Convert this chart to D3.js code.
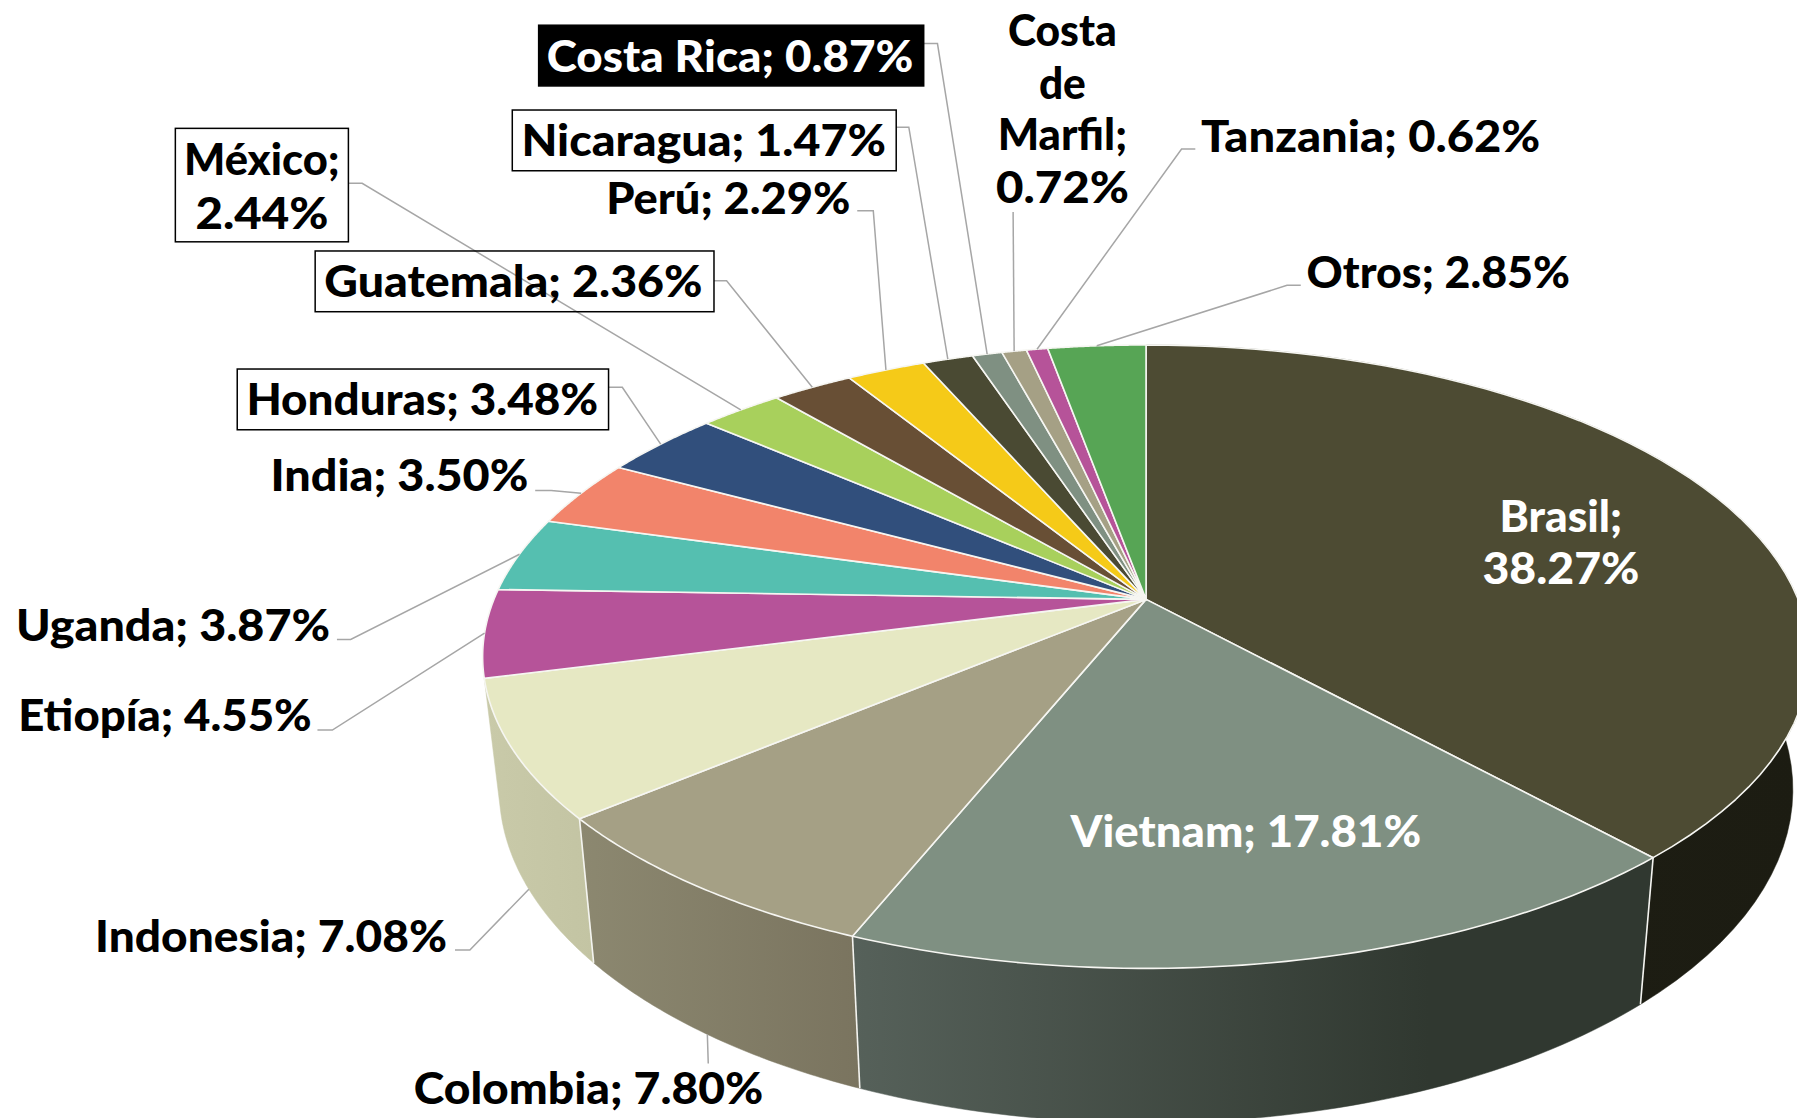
<!DOCTYPE html>
<html><head><meta charset="utf-8">
<script src="https://cdn.jsdelivr.net/npm/d3@7/dist/d3.min.js"></script>
<style>html,body{margin:0;padding:0;background:#fff;overflow:hidden}svg{display:block}text{font-family:Lato,"Open Sans",sans-serif;font-weight:900}</style>
</head><body><svg id="c" width="1797" height="1118"></svg>
<script>
const categories=["Brasil","Vietnam","Colombia","Indonesia","Etiopía","Uganda","India","Honduras","México","Guatemala","Perú","Nicaragua","Costa Rica","Costa de Marfil","Tanzania","Otros"];
const shares=[38.27,17.81,7.80,7.08,4.55,3.87,3.50,3.48,2.44,2.36,2.29,1.47,0.87,0.72,0.62,2.85];
const topColors=["#4d4b33","#7f9082","#a5a085","#e6e8c3","#b65399","#55bfb0","#f2846b","#314f7c","#a8d05c","#684f35","#f5ca18","#4a4a33","#7f9082","#a5a085","#b65399","#57a555"];
const wallStops={0:["#1f1f15","#1c1c12"],1:["#56615a","#303830"],2:["#8c8870","#7a745f"],3:["#c9caa9","#c3c4a3"]};

// label layout in reference units (1568 wide image): line centre, baselines, text widths, elbow
const U=1797/1568;
const layout={
 "Brasil":{lines:["Brasil;","38.27%"],cx:1362,base:[464,510],w:[107,137],color:"#fff"},
 "Vietnam":{lines:["Vietnam; 17.81%"],cx:1087,base:[739],w:[306],color:"#fff"},
 "Colombia":{lines:["Colombia; 7.80%"],cx:513.5,base:[963],w:[305],leader:[[618,928],[618,928]],wall:true},
 "Indonesia":{lines:["Indonesia; 7.08%"],cx:236.5,base:[831],w:[307],leader:[[397,829],[410,829]],wall:true},
 "Etiopía":{lines:["Etiopía; 4.55%"],cx:144,base:[638],w:[256],leader:[[277,637],[290,637]]},
 "Uganda":{lines:["Uganda; 3.87%"],cx:151,base:[559],w:[274],leader:[[294,558],[306,558]]},
 "India":{lines:["India; 3.50%"],cx:348.5,base:[428],w:[225],leader:[[467,428],[481,428]]},
 "Honduras":{lines:["Honduras; 3.48%"],cx:368.5,base:[362],w:[307],box:[207,322,531,375],leader:[[531,338],[543,338]]},
 "México":{lines:["México;","2.44%"],cx:228.5,base:[153,200],w:[136,116],box:[153,112,304,211],leader:[[304,160],[316,160]]},
 "Guatemala":{lines:["Guatemala; 2.36%"],cx:448,base:[259],w:[330],box:[275,219,623,272],leader:[[623,245],[634,245]]},
 "Perú":{lines:["Perú; 2.29%"],cx:635.5,base:[187],w:[213],leader:[[748,184],[762,184]]},
 "Nicaragua":{lines:["Nicaragua; 1.47%"],cx:614,base:[136],w:[318],box:[447,96,782,149],leader:[[782,111],[793,111]]},
 "Costa Rica":{lines:["Costa Rica; 0.87%"],cx:637,base:[63],w:[320],box:[470,22,806,75],filled:true,color:"#fff",leader:[[806,38],[818,38]]},
 "Costa de Marfil":{lines:["Costa","de","Marfil;","0.72%"],cx:927,base:[40,86,131,177],w:[95,41,113,116],leader:[[884,185],[884,185]]},
 "Tanzania":{lines:["Tanzania; 0.62%"],cx:1196,base:[133],w:[296],leader:[[1043,130],[1031,130]]},
 "Otros":{lines:["Otros; 2.85%"],cx:1255,base:[251],w:[230],leader:[[1135,249],[1123,249]]}
};
const fontSize=44;

// perspective projection of the pie disc
const cx=1000*U,cy=523*U,a=569*U,b=262.8*U,k=0.1838,floorX=0.975,floorYS=1.069,floorY=635.5*U;
function topPt(t){const u=Math.sin(t),v=-Math.cos(t),w=1-k*v;return [cx+a*u/w,cy+b*v/w];}
function floorPt(t){const p=topPt(t);return [cx+floorX*(p[0]-cx),floorY+floorYS*(p[1]-cy)];}
const arcPts=(f,t0,t1)=>d3.range(0,61).map(i=>f(t0+(t1-t0)*i/60));

const svg=d3.select("#c");
const defs=svg.append("defs");
const pie=d3.pie().sort(null)(shares);
const lineGen=d3.line();

// side walls
const walls=svg.append("g");
pie.forEach((d,i)=>{
  if(!wallStops[i])return;
  const tp=arcPts(topPt,d.startAngle,d.endAngle), bt=arcPts(floorPt,d.endAngle,d.startAngle);
  const all=tp.concat(bt), xs=d3.extent(all,p=>p[0]);
  const g=defs.append("linearGradient").attr("id","w"+i).attr("gradientUnits","userSpaceOnUse")
    .attr("x1",xs[0]).attr("x2",xs[1]).attr("y1",0).attr("y2",0);
  g.append("stop").attr("offset",0).attr("stop-color",wallStops[i][0]);
  g.append("stop").attr("offset",i===1?0.72:1).attr("stop-color",wallStops[i][1]);
  walls.append("path").attr("d",lineGen(all)+"Z").attr("fill",`url(#w${i})`).attr("stroke",`url(#w${i})`).attr("stroke-width",0.5);
});
// wall seams
[0,1,2].forEach(i=>{const t=pie[i].endAngle,p=topPt(t),q=floorPt(t);
  walls.append("line").attr("x1",p[0]).attr("y1",p[1]).attr("x2",q[0]).attr("y2",q[1]).attr("stroke","#f4f4f0").attr("stroke-width",1.6);});

// top faces
svg.append("g").selectAll("path").data(pie).join("path")
  .attr("d",d=>lineGen([[cx,cy]].concat(arcPts(topPt,d.startAngle,d.endAngle)))+"Z")
  .attr("fill",(d,i)=>topColors[i]).attr("stroke","#f6f6f2").attr("stroke-width",1.6).attr("stroke-linejoin","round");

// leaders
const leaders=svg.append("g").attr("fill","none").attr("stroke","#a6a6a6").attr("stroke-width",1.5);
pie.forEach((d,i)=>{const L=layout[categories[i]]; if(!L.leader)return;
  const mid=(d.startAngle+d.endAngle)/2, end=L.wall?floorPt(mid):topPt(mid);
  leaders.append("path").attr("d",lineGen(L.leader.map(p=>[p[0]*U,p[1]*U]).concat([end])));
});

// labels
const labels=svg.append("g");
categories.forEach(c=>{const L=layout[c];
  if(L.box){const B=L.box.map(v=>v*U);
    labels.append("rect").attr("x",B[0]).attr("y",B[1]).attr("width",B[2]-B[0]).attr("height",B[3]-B[1])
      .attr("fill",L.filled?"#000":"none").attr("stroke","#000").attr("stroke-width",1.5);}
  L.lines.forEach((t,j)=>{
    labels.append("text").attr("x",L.cx*U).attr("y",L.base[j]*U).attr("text-anchor","middle")
      .attr("font-size",fontSize).attr("fill",L.color||"#000")
      .attr("textLength",L.w[j]*U).attr("lengthAdjust","spacingAndGlyphs").text(t);
  });
});
</script></body></html>
